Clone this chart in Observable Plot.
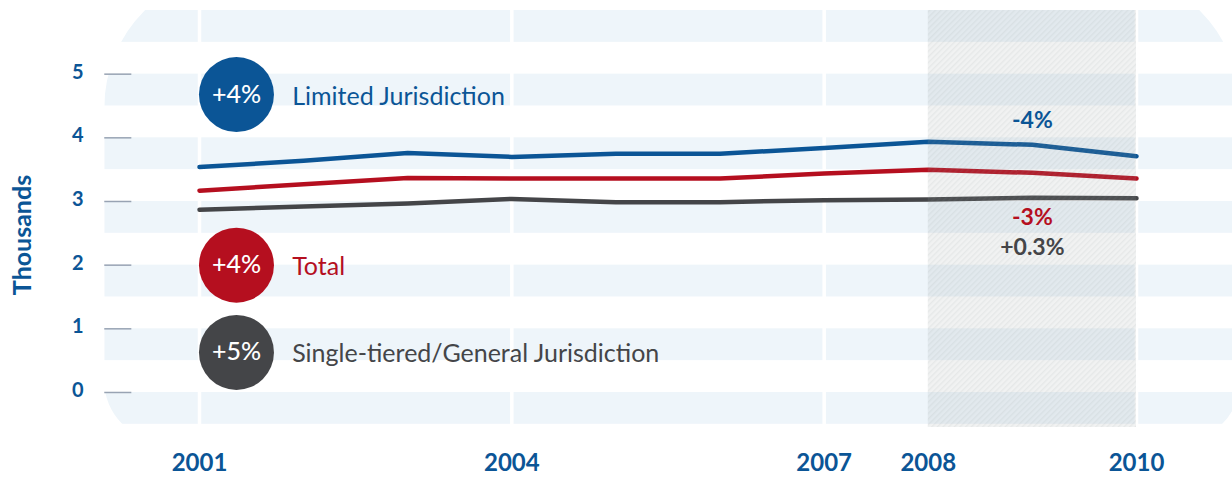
<!DOCTYPE html>
<html>
<head>
<meta charset="utf-8">
<script src="https://cdn.jsdelivr.net/npm/d3@7"></script>
<script src="https://cdn.jsdelivr.net/npm/@observablehq/plot@0.6"></script>
<style>
  html, body { margin: 0; padding: 0; background: #fff; }
  #chart svg { display: block; }
</style>
</head>
<body>
<div id="chart"></div>
<script>
// ---- data ----
const years   = [2001, 2002, 2003, 2004, 2005, 2006, 2007, 2008, 2009, 2010];
const limited = [3.54, 3.64, 3.76, 3.70, 3.75, 3.75, 3.84, 3.94, 3.89, 3.71];
const total   = [3.17, 3.27, 3.37, 3.36, 3.36, 3.36, 3.44, 3.50, 3.45, 3.36];
const single  = [2.87, 2.92, 2.97, 3.04, 2.99, 2.99, 3.02, 3.03, 3.06, 3.05];
const seriesNames   = ["Limited Jurisdiction", "Total", "Single-tiered/General Jurisdiction"];
const decadeChange  = ["+4%", "+4%", "+5%"];
const recentChange  = ["-4%", "-3%", "+0.3%"];
const xTicks   = [2001, 2004, 2007, 2008, 2010];
const yTicks   = [0, 1, 2, 3, 4, 5];
const gapYears = [2001, 2004, 2007, 2010];
const recession = [2008, 2010];
const yLabel = "Thousands";

// ---- styling / layout ----
const colors = ["#0b5596", "#b50f1f", "#444548"];
const bandFill = "#eef5fa";
const font = "Lato, 'Open Sans', sans-serif";
const yDomain = [-0.55, 6];
const panelX = [2000.09, 2011];
const legendY = [4.68, 2.0, 0.63];
const legendX = 2001.355;
const labelX = 2001.89;
const recentY = [4.27, 2.74, 2.27];

const seriesValues = [limited, total, single];
const rows = [];
seriesValues.forEach((vals, s) => vals.forEach((v, i) => rows.push({series: seriesNames[s], year: years[i], value: v, color: colors[s]})));
const bands = [0, 1, 2, 3, 4, 5, 6].map(k => ({y1: Math.max(k - 0.5, yDomain[0]), y2: k}));
const legend = seriesNames.map((n, i) => ({name: n, change: decadeChange[i], recent: recentChange[i], color: colors[i], ly: legendY[i], ry: recentY[i]}));

const plot = Plot.plot({
  width: 1232,
  height: 477,
  marginTop: 10,
  marginBottom: 50,
  marginLeft: 199,
  marginRight: 96,
  style: {fontFamily: font, background: "#fff", overflow: "visible"},
  x: {domain: [2001, 2010]},
  y: {domain: yDomain},
  marks: [
    // background bands
    Plot.rect(bands, {x1: panelX[0], x2: panelX[1], y1: "y1", y2: "y2", fill: bandFill}),
    // white vertical gaps
    Plot.ruleX(gapYears, {x: d => d, y1: yDomain[0], y2: 6, stroke: "#fff", strokeWidth: 3.5}),
    // y tick marks
    Plot.ruleY(yTicks, {y: d => d, x1: panelX[0], x2: 2000.35, stroke: "#98a3b3", strokeWidth: 1.5}),
    // lines
    Plot.line(rows, {x: "year", y: "value", z: "series", stroke: "color", strokeWidth: 4.5, strokeLinecap: "round", strokeLinejoin: "round"}),
    // recession shading
    Plot.rect([recession], {x1: d => d[0], x2: d => d[1], y1: yDomain[0], y2: 6, fill: "#8c9196", fillOpacity: 0.14}),
    // legend circles
    Plot.dot(legend, {x: legendX, y: "ly", r: 37.5, fill: "color", stroke: null}),
    Plot.text(legend, {x: legendX, y: "ly", text: "change", fill: "#fff", fontSize: 25, fontWeight: 500}),
    Plot.text(legend, {x: labelX, y: "ly", dy: 2, text: "name", fill: "color", fontSize: 25, textAnchor: "start", fontWeight: 400}),
    // recent change labels
    Plot.text(legend, {x: (recession[0] + recession[1]) / 2, y: "ry", text: "recent", fill: "color", fontSize: 23, fontWeight: 700}),
    // axes
    Plot.axisX({ticks: xTicks, tickFormat: d => String(d), tickSize: 0, tickPadding: 26, fontSize: 24, fontWeight: 700, fill: colors[0], label: null}),
    Plot.axisY({ticks: yTicks, tickFormat: d => String(d), tickSize: 0, tickPadding: 116, dy: -2, fontSize: 20, fontWeight: 700, fill: colors[0], label: null}),
    Plot.text([yLabel], {frameAnchor: "left", textAnchor: "middle", dx: -177, dy: 16, rotate: -90, text: d => d, fill: colors[0], fontSize: 25, fontWeight: 700})
  ]
});

const svgEl = plot.tagName.toLowerCase() === "svg" ? plot : plot.querySelector("svg");
const svg = d3.select(svgEl);
const sx = plot.scale("x"), sy = plot.scale("y");
const x1p = sx.apply(panelX[0]), x2p = sx.apply(panelX[1]);
const topP = sy.apply(6) - 40, botP = sy.apply(yDomain[0]) + 14;
const rT = 138, rB = 60;
const defs = svg.insert("defs", ":first-child");
defs.append("clipPath").attr("id", "panelClip").append("path").attr("d",
  `M${x1p},${topP + rT} A${rT},${rT} 0 0 1 ${x1p + rT},${topP} L${x2p - rT},${topP} A${rT},${rT} 0 0 1 ${x2p},${topP + rT} ` +
  `L${x2p},${botP - rB} A${rB},${rB} 0 0 1 ${x2p - rB},${botP} L${x1p + rB},${botP} A${rB},${rB} 0 0 1 ${x1p},${botP - rB} Z`);
const pat = defs.append("pattern").attr("id", "hatch").attr("patternUnits", "userSpaceOnUse")
  .attr("width", 4).attr("height", 4).attr("patternTransform", "rotate(45)");
pat.append("rect").attr("width", 4).attr("height", 4).attr("fill", "rgba(140,145,150,0.12)");
pat.append("rect").attr("width", 1.5).attr("height", 4).attr("fill", "rgba(140,145,150,0.10)");

const rectGroups = svg.selectAll("g[aria-label='rect']").nodes();
if (rectGroups[0]) d3.select(rectGroups[0]).attr("clip-path", "url(#panelClip)");
if (rectGroups[1]) d3.select(rectGroups[1]).selectAll("rect").attr("fill", "url(#hatch)").attr("fill-opacity", 1);

document.getElementById("chart").appendChild(plot);
</script>
</body>
</html>
